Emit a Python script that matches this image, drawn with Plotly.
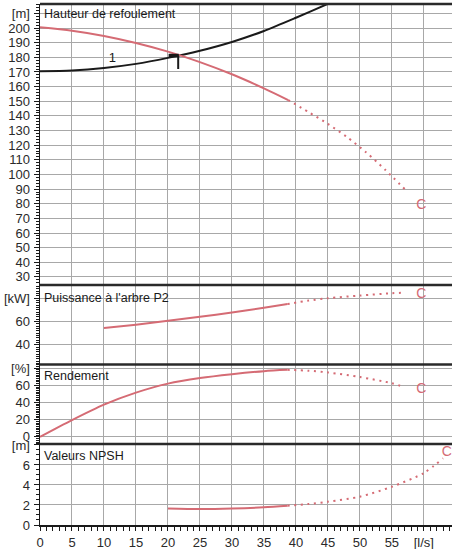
import plotly.graph_objects as go

# ---------------- data ----------------
flow_tick_step = 5
flow_unit_alias = {"60": "[l/s]"}

# pump head curve (solid part and dotted extension)
q_head = [0, 5, 10, 15, 20, 25, 30, 35, 38.8]
head = [200.5, 198.2, 194.6, 189.8, 183.9, 176.7, 168.4, 158.8, 150.8]
q_head_ext = [38.8, 42, 45, 48, 51, 54, 57]
head_ext = [150.8, 142.5, 134.5, 125.5, 115.0, 103.0, 90.0]

# system curve "1"
q_sys = [0, 5, 10, 15, 20, 25, 30, 35, 40, 45, 47]
h_sys = [170.5, 171.0, 172.7, 175.5, 179.6, 184.5, 190.5, 198.0, 207.0, 216.5, 220.0]
sys_label_q = [11.3]
sys_label_h = [178.8]
sys_label = ["1"]

# operating point marker
op_bar_q = [20.1, 21.7]
op_bar_h = [181.2, 181.2]
op_stem_q = [21.6, 21.6]
op_stem_h = [181.2, 172.0]

# shaft power P2
q_pow = [10, 15, 20, 25, 30, 35, 38.7]
power = [54.4, 57.3, 60.6, 64.0, 67.7, 71.8, 75.0]
q_pow_ext = [38.7, 42, 45, 50, 55, 57]
power_ext = [75.0, 78.0, 80.0, 82.3, 84.3, 84.8]

# efficiency
q_eff = [0, 5, 10, 15, 20, 25, 30, 35, 38.7]
eff = [0, 19.5, 37.5, 51.5, 62.0, 68.5, 73.0, 76.5, 78.0]
q_eff_ext = [38.7, 42, 45, 50, 55, 57]
eff_ext = [78.0, 77.0, 75.0, 69.6, 62.4, 57.8]

# NPSH
q_npsh = [20, 25, 30, 35, 38.7]
npsh = [1.65, 1.60, 1.65, 1.77, 1.93]
q_npsh_ext = [38.7, 42, 45, 50, 55, 60, 63]
npsh_ext = [1.93, 2.10, 2.33, 2.83, 3.83, 5.20, 6.67]

# "C" end labels
c_head = ([59.6], [79.0])
c_power = ([59.6], [83.0])
c_eff = ([59.6], [54.7])
c_npsh = ([63.6], [7.2])

# axis ticks (step, unit label shown at the top tick)
head_tick_step, head_alias = 10, {"210": "[m]"}
power_tick_step, power_alias = 20, {"80": "[kW]"}
eff_tick_step, eff_alias = 20, {"80": "[%]"}
npsh_tick_step, npsh_alias = 2, {"8": "[m]"}

# ---------------- styling ----------------
RED = "#d56b74"
BLACK = "#1a1a1a"
GRID = "#a8a8a8"
FONT = "Liberation Sans, Arial, sans-serif"
DOT = "2px,4.6px"

D = [0.0, 0.1555, 0.308, 0.4607, 1.0]  # panel boundaries (paper)

fig = go.Figure()


def line(x, y, ax, color=RED, dash=None, width=2):
    fig.add_trace(go.Scatter(
        x=x, y=y, mode="lines", xaxis=ax[0], yaxis=ax[1], showlegend=False,
        hoverinfo="skip",
        line=dict(color=color, width=width, dash=dash, shape="spline", smoothing=0.8)))


def text(xy, t, ax, color=RED, size=14):
    fig.add_trace(go.Scatter(
        x=xy[0], y=xy[1], mode="text", text=t, xaxis=ax[0], yaxis=ax[1],
        showlegend=False, hoverinfo="skip", cliponaxis=False,
        textfont=dict(color=color, size=size, family=FONT)))


A1, A2, A3, A4 = ("x", "y"), ("x2", "y2"), ("x3", "y3"), ("x4", "y4")

# head panel
line(q_sys, h_sys, A1, color=BLACK, width=2)
line(q_head, head, A1)
line(q_head_ext, head_ext, A1, dash=DOT)
line(op_bar_q, op_bar_h, A1, color=BLACK, width=3.5)
line(op_stem_q, op_stem_h, A1, color=BLACK, width=2)
text((sys_label_q, sys_label_h), sys_label, A1, color=BLACK, size=13)
text(c_head, ["C"], A1)

# power panel
line(q_pow, power, A2)
line(q_pow_ext, power_ext, A2, dash=DOT)
text(c_power, ["C"], A2)

# efficiency panel
line(q_eff, eff, A3)
line(q_eff_ext, eff_ext, A3, dash=DOT)
text(c_eff, ["C"], A3)

# NPSH panel
line(q_npsh, npsh, A4)
line(q_npsh_ext, npsh_ext, A4, dash=DOT)
text(c_npsh, ["C"], A4)

XR = [0, 64.4]
tickfont = dict(family=FONT, size=13, color="#2a2a2a")


def xaxis(anchor, labels):
    d = dict(range=XR, domain=[0, 1], anchor=anchor, tickmode="linear", tick0=0,
             dtick=flow_tick_step, labelalias=flow_unit_alias, showgrid=True,
             gridcolor=GRID, gridwidth=1, zeroline=False, fixedrange=True,
             tickfont=tickfont, automargin=False)
    if labels:
        d.update(showticklabels=True, ticks="outside", ticklen=4, tickcolor=BLACK,
                 tickwidth=1, showline=True, linecolor=BLACK, linewidth=2,
                 minor=dict(dtick=1, tick0=0, ticks="outside", ticklen=4,
                            tickcolor=BLACK, tickwidth=1, showgrid=False))
    else:
        d.update(showticklabels=False, ticks="", showline=False)
    return d


def yaxis(dom, rng, step, alias, mdt, anchor):
    return dict(domain=dom, range=rng, anchor=anchor, tickmode="linear", tick0=0,
                dtick=step, labelalias=alias, showgrid=True, gridcolor=GRID, gridwidth=1,
                zeroline=False, showline=True, linecolor=BLACK, linewidth=1.5,
                ticks="outside", ticklen=5, tickcolor=BLACK, tickwidth=1,
                ticklabelstandoff=1, automargin=False,
                minor=dict(dtick=mdt, tick0=0, ticks="outside", ticklen=3,
                           tickcolor=BLACK, tickwidth=1, showgrid=False),
                tickfont=tickfont, fixedrange=True)


fig.update_layout(
    template="none",
    width=452, height=549,
    margin=dict(l=40, r=0, t=4, b=24, autoexpand=False),
    paper_bgcolor="white", plot_bgcolor="white",
    font=dict(family=FONT, size=13, color="#222"),
    hovermode=False,
    xaxis=xaxis("y", False),
    xaxis2=xaxis("y2", False),
    xaxis3=xaxis("y3", False),
    xaxis4=xaxis("y4", True),
    yaxis=yaxis([D[3], D[4]], [24.5, 216.4], head_tick_step, head_alias, 2, "x"),
    yaxis2=yaxis([D[2], D[3]], [23, 91.4], power_tick_step, power_alias, 2, "x2"),
    yaxis3=yaxis([D[1], D[2]], [-8.3, 84.2], eff_tick_step, eff_alias, 2, "x3"),
    yaxis4=yaxis([D[0], D[1]], [0, 8.1], npsh_tick_step, npsh_alias, 0.5, "x4"),
)

# thick panel separators
for yb in D[1:]:
    fig.add_shape(type="line", xref="paper", yref="paper", x0=0, x1=1, y0=yb, y1=yb,
                  line=dict(color="#2a2a2a", width=2.5), layer="above")

# panel titles
titles = [("Hauteur de refoulement", 0.981), ("Puissance à l'arbre P2", 0.4357),
          ("Rendement", 0.286), ("Valeurs NPSH", 0.1324)]
for t, yp in titles:
    fig.add_annotation(text=t, xref="paper", yref="paper", x=0.004, y=yp,
                       xanchor="left", yanchor="middle", showarrow=False,
                       font=dict(family=FONT, size=12.5, color="#1a1a1a"))

fig.write_html("out.html", config={"displayModeBar": False, "staticPlot": True},
               post_script="document.body.style.margin='0px';document.body.style.padding='0px';")
